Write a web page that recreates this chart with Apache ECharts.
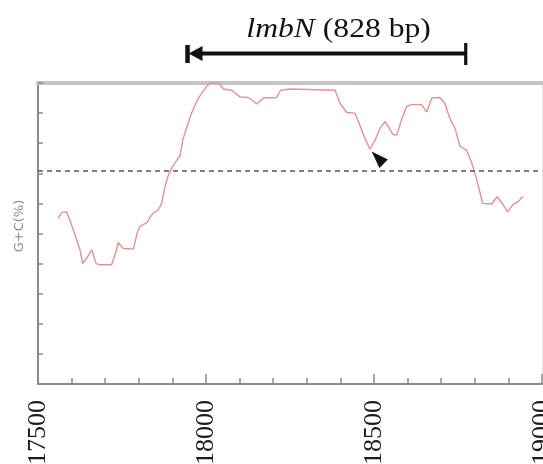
<!DOCTYPE html>
<html>
<head>
<meta charset="utf-8">
<script src="https://cdn.jsdelivr.net/npm/echarts@6/dist/echarts.min.js"></script>
<style>
  html, body { margin: 0; padding: 0; background: #fff; }
  #chart { width: 543px; height: 464px; }
</style>
</head>
<body>
<div id="chart"></div>
<script>
// Sliding-window G+C content along the genomic region (position in bp, G+C %)
const positions = [17560, 17571, 17585, 17595, 17610, 17625, 17633, 17647, 17660, 17673,
  17685, 17719, 17732, 17739, 17754, 17784, 17796, 17804, 17824, 17835,
  17843, 17858, 17868, 17878, 17888, 17901, 17913, 17923, 17932, 17943,
  17957, 17972, 17987, 18002, 18012, 18037, 18052, 18077, 18101, 18126,
  18151, 18171, 18210, 18222, 18250, 18384, 18399, 18419, 18443, 18458,
  18473, 18488, 18503, 18518, 18533, 18543, 18557, 18568, 18582, 18597,
  18612, 18642, 18657, 18672, 18696, 18711, 18726, 18741, 18756, 18776,
  18791, 18806, 18815, 18823, 18850, 18867, 18883, 18897, 18915, 18929, 18944];
const gcPercent = [47.5, 48.5, 48.6, 47.2, 44.8, 42.3, 40.0, 41.1, 42.3, 40.0,
  39.8, 39.8, 42.0, 43.5, 42.5, 42.4, 45.3, 46.2, 46.8, 47.8,
  48.4, 48.9, 50.0, 52.8, 54.7, 56.2, 57.2, 58.0, 60.8, 62.7,
  65.0, 66.9, 68.3, 69.4, 70.0, 70.0, 69.0, 68.8, 67.7, 67.6,
  66.5, 67.5, 67.6, 68.8, 69.0, 68.8, 66.6, 65.1, 65.0, 63.0,
  60.8, 59.0, 60.5, 62.5, 63.6, 62.7, 61.4, 61.4, 63.9, 66.1,
  66.4, 66.4, 65.2, 67.5, 67.6, 66.6, 64.1, 62.5, 59.5, 58.8,
  56.7, 53.9, 51.9, 50.0, 49.9, 51.1, 49.9, 48.6, 49.9, 50.3, 51.2];

// Genome-average G+C reference level
const averageGC = 55.5;
// Tick labels along the position axis
const xTickLabels = [17500, 18000, 18500, 19000];
// Gene span annotation
const geneName = 'lmbN';
const geneLength = 828;
const geneStart = 17945;
const geneEnd = geneStart + geneLength;
// Pointer marking the local G+C minimum inside the gene
const pointerAt = [18493, 58.6];

const seriesData = positions.map((p, i) => [p, gcPercent[i]]);

const chart = echarts.init(document.getElementById('chart'), null, { renderer: 'canvas' });

const axisGray = '#8a8a8a';
const serif = '"Liberation Serif", "Times New Roman", serif';

chart.setOption({
  animation: false,
  backgroundColor: '#ffffff',
  grid: { left: 38, right: 1, top: 83, bottom: 80, containLabel: false, outerBoundsMode: 'none' },
  xAxis: [
    {
      type: 'value',
      min: 17500,
      max: 19000,
      interval: 500,
      axisLine: { show: true, lineStyle: { color: axisGray, width: 2 } },
      axisTick: { show: true, inside: true, length: 10, lineStyle: { color: axisGray, width: 1.5 } },
      minorTick: { show: true, splitNumber: 5, length: 6, lineStyle: { color: axisGray, width: 1.5 } },
      splitLine: { show: false },
      axisLabel: {
        show: true,
        rotate: 90,
        margin: 16,
        hideOverlap: false,
        showMinLabel: true,
        showMaxLabel: true,
        fontFamily: serif,
        fontSize: 26,
        color: '#1a1a1a',
        formatter: v => (xTickLabels.indexOf(v) >= 0 ? String(v) : '')
      }
    },
    {
      type: 'value',
      position: 'top',
      min: 17500,
      max: 19000,
      axisLine: { show: true, onZero: false, lineStyle: { color: '#c4c4c4', width: 4 } },
      axisTick: { show: false },
      axisLabel: { show: false },
      splitLine: { show: false }
    }
  ],
  yAxis: [
    {
      type: 'value',
      min: 20,
      max: 70,
      interval: 5,
      axisLine: { show: true, onZero: false, lineStyle: { color: axisGray, width: 2 } },
      axisTick: { show: true, inside: true, length: 5, lineStyle: { color: axisGray, width: 1.5 } },
      axisLabel: { show: false },
      splitLine: { show: false }
    },
    {
      type: 'value',
      position: 'right',
      min: 20,
      max: 70,
      axisLine: { show: true, onZero: false, lineStyle: { color: '#e2e2e2', width: 1 } },
      axisTick: { show: false },
      axisLabel: { show: false },
      splitLine: { show: false }
    }
  ],
  series: [
    {
      type: 'line',
      data: seriesData,
      xAxisIndex: 0,
      yAxisIndex: 0,
      showSymbol: false,
      symbol: 'none',
      smooth: false,
      lineStyle: { color: '#e39292', width: 1.4 },
      markLine: {
        silent: true,
        symbol: 'none',
        label: { show: false },
        lineStyle: { color: '#555555', width: 1.5, type: [5, 4] },
        data: [{ yAxis: averageGC }]
      },
      markPoint: {
        silent: true,
        symbol: 'triangle',
        symbolSize: [12, 17],
        symbolRotate: 45,
        symbolOffset: [6, 6],
        itemStyle: { color: '#111111' },
        label: { show: false },
        data: [{ coord: pointerAt }]
      }
    }
  ]
});

// Gene span drawn above the plot, positioned through the x scale
const x0 = chart.convertToPixel({ xAxisIndex: 0 }, geneStart);
const x1 = chart.convertToPixel({ xAxisIndex: 0 }, geneEnd);
const barY = 54;
const ink = '#111111';

chart.setOption({
  graphic: [
    {
      type: 'line',
      shape: { x1: x0 + 6, y1: barY - 0.5, x2: x1, y2: barY - 0.5 },
      style: { stroke: ink, lineWidth: 4 }
    },
    {
      type: 'line',
      shape: { x1: x0, y1: barY - 9, x2: x0, y2: barY + 9 },
      style: { stroke: ink, lineWidth: 4.5 }
    },
    {
      type: 'polygon',
      shape: { points: [[x0 + 1, barY - 0.5], [x0 + 15, barY - 8], [x0 + 15, barY + 7]] },
      style: { fill: ink }
    },
    {
      type: 'line',
      shape: { x1: x1, y1: barY - 11, x2: x1, y2: barY + 11 },
      style: { stroke: ink, lineWidth: 3.2 }
    },
    {
      type: 'text',
      x: (x0 + x1) / 2 + 12,
      y: 30,
      scaleX: 1.13,
      style: {
        text: '{i|' + geneName + '} (' + geneLength + ' bp)',
        align: 'center',
        verticalAlign: 'middle',
        fontFamily: serif,
        fontSize: 28,
        fill: ink,
        rich: {
          i: {
            fontStyle: 'italic',
            fontFamily: serif,
            fontSize: 28,
            fill: ink
          }
        }
      }
    },
    {
      type: 'text',
      x: 20,
      y: 226,
      rotation: Math.PI / 2,
      style: {
        text: 'G+C(%)',
        align: 'center',
        verticalAlign: 'middle',
        fontFamily: '"DejaVu Sans", sans-serif',
        fontSize: 13,
        fill: '#8c8c8c'
      }
    }
  ]
});
</script>
</body>
</html>
